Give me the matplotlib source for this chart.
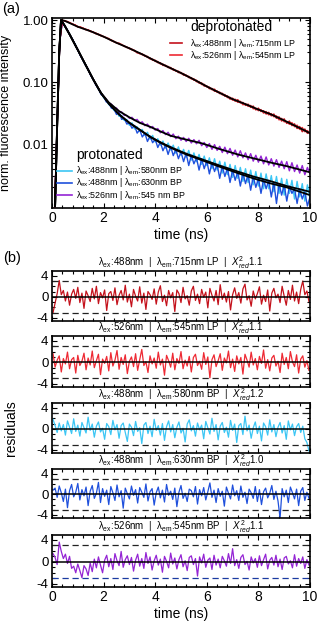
import matplotlib
matplotlib.use('Agg')
import matplotlib.pyplot as plt
import numpy as np
from matplotlib.ticker import FixedLocator, AutoMinorLocator, NullFormatter, LogLocator

plt.rcParams['font.family'] = ['Liberation Sans', 'DejaVu Sans']
plt.rcParams['mathtext.fontset'] = 'custom'
plt.rcParams['mathtext.rm'] = 'Liberation Sans'
plt.rcParams['mathtext.it'] = 'Liberation Sans:italic'
plt.rcParams['axes.unicode_minus'] = False

# ---------------- data: panel (a) ----------------
t_data = np.round(np.arange(101) * 0.1, 2)   # channel times (ns)

dep_715 = [0.0005, 0.0008, 0.021, 0.46, 0.99, 0.96, 0.95, 0.89, 0.87, 0.82,
           0.79, 0.76, 0.75, 0.70, 0.70, 0.65, 0.645, 0.60, 0.595, 0.555,
           0.545, 0.515, 0.505, 0.465, 0.455, 0.425, 0.425, 0.395, 0.385, 0.36,
           0.355, 0.33, 0.325, 0.295, 0.295, 0.275, 0.27, 0.25, 0.245, 0.225,
           0.225, 0.205, 0.205, 0.185, 0.187, 0.171, 0.172, 0.156, 0.155, 0.142,
           0.143, 0.129, 0.13, 0.118, 0.118, 0.107, 0.107, 0.096, 0.097, 0.086,
           0.087, 0.078, 0.079, 0.071, 0.072, 0.065, 0.066, 0.059, 0.060, 0.053,
           0.055, 0.049, 0.052, 0.046, 0.047, 0.042, 0.044, 0.039, 0.041, 0.0355,
           0.038, 0.0335, 0.0345, 0.0305, 0.0325, 0.0285, 0.0305, 0.026, 0.0275, 0.0235,
           0.0255, 0.0215, 0.0235, 0.0198, 0.0212, 0.0178, 0.0192, 0.0158, 0.0175, 0.0149,
           0.0155]
dep_545 = [0.0005, 0.0009, 0.019, 0.44, 0.98, 0.98, 0.93, 0.91, 0.85, 0.84,
           0.77, 0.78, 0.73, 0.72, 0.68, 0.67, 0.63, 0.62, 0.58, 0.57,
           0.535, 0.525, 0.49, 0.48, 0.445, 0.435, 0.41, 0.405, 0.375, 0.37,
           0.345, 0.34, 0.315, 0.305, 0.285, 0.285, 0.26, 0.26, 0.235, 0.235,
           0.215, 0.215, 0.195, 0.195, 0.179, 0.179, 0.164, 0.164, 0.149, 0.15,
           0.137, 0.137, 0.124, 0.124, 0.112, 0.113, 0.101, 0.102, 0.091, 0.092,
           0.083, 0.083, 0.075, 0.077, 0.068, 0.069, 0.062, 0.063, 0.056, 0.057,
           0.051, 0.053, 0.047, 0.049, 0.043, 0.045, 0.0405, 0.042, 0.037, 0.038,
           0.0345, 0.036, 0.0315, 0.0335, 0.0295, 0.031, 0.0275, 0.0285, 0.0245, 0.026,
           0.0228, 0.0232, 0.0208, 0.0222, 0.019, 0.0202, 0.0172, 0.0185, 0.0158, 0.0165,
           0.0148]
pro_580 = [0.0005, 0.0008, 0.02, 0.46, 0.94, 0.81, 0.67, 0.58, 0.47, 0.41,
           0.325, 0.275, 0.222, 0.192, 0.158, 0.133, 0.108, 0.094, 0.076, 0.068,
           0.056, 0.052, 0.043, 0.042, 0.035, 0.034, 0.028, 0.029, 0.024, 0.025,
           0.020, 0.022, 0.0175, 0.019, 0.016, 0.0172, 0.0138, 0.0155, 0.012, 0.0138,
           0.0108, 0.0122, 0.0096, 0.0112, 0.0086, 0.0104, 0.0080, 0.0096, 0.0071, 0.0090,
           0.0066, 0.0082, 0.0061, 0.0079, 0.0055, 0.0072, 0.0052, 0.0068, 0.0047, 0.0064,
           0.0045, 0.0060, 0.0040, 0.0058, 0.0038, 0.0053, 0.0034, 0.0051, 0.0032, 0.0047,
           0.0029, 0.0045, 0.0028, 0.0042, 0.0025, 0.0040, 0.0024, 0.0038, 0.0022, 0.0036,
           0.0021, 0.0034, 0.0019, 0.0033, 0.0019, 0.0031, 0.0017, 0.0030, 0.0016, 0.0028,
           0.0015, 0.0027, 0.0016, 0.0026, 0.0013, 0.0025, 0.0014, 0.0023, 0.0012, 0.0022,
           0.0013]
pro_630 = [0.0005, 0.0008, 0.02, 0.45, 0.93, 0.79, 0.69, 0.56, 0.49, 0.39,
           0.335, 0.265, 0.228, 0.186, 0.162, 0.127, 0.111, 0.089, 0.079, 0.063,
           0.059, 0.048, 0.046, 0.038, 0.037, 0.030, 0.033, 0.025, 0.026, 0.021,
           0.022, 0.018, 0.020, 0.015, 0.017, 0.013, 0.015, 0.011, 0.0135, 0.0105,
           0.012, 0.0088, 0.0108, 0.0078, 0.0096, 0.0068, 0.0092, 0.0065, 0.0082, 0.0058,
           0.0075, 0.0052, 0.0071, 0.0045, 0.0066, 0.0048, 0.0060, 0.0038, 0.0058, 0.0040,
           0.0054, 0.0033, 0.0050, 0.0036, 0.0047, 0.0028, 0.0044, 0.0030, 0.0041, 0.0024,
           0.0038, 0.0026, 0.0036, 0.0021, 0.0034, 0.0023, 0.0032, 0.0018, 0.0030, 0.0020,
           0.0028, 0.0016, 0.0027, 0.0019, 0.0026, 0.0014, 0.0024, 0.0011, 0.0023, 0.0015,
           0.0022, 0.0012, 0.0021, 0.0016, 0.0019, 0.0011, 0.0019, 0.0013, 0.0017, 0.0010,
           0.0014]
pro_545 = [0.0005, 0.0008, 0.021, 0.47, 0.95, 0.80, 0.68, 0.57, 0.48, 0.40,
           0.33, 0.27, 0.225, 0.19, 0.16, 0.13, 0.11, 0.092, 0.078, 0.067,
           0.059, 0.053, 0.046, 0.044, 0.039, 0.038, 0.033, 0.033, 0.029, 0.029,
           0.026, 0.027, 0.024, 0.025, 0.022, 0.0228, 0.0198, 0.021, 0.0182, 0.0192,
           0.0168, 0.0178, 0.0152, 0.0165, 0.0142, 0.0155, 0.0132, 0.0145, 0.0122, 0.0134,
           0.0115, 0.0128, 0.011, 0.0124, 0.0104, 0.0118, 0.0101, 0.0115, 0.0094, 0.0106,
           0.0088, 0.0102, 0.0082, 0.0098, 0.0079, 0.0092, 0.0073, 0.0089, 0.0070, 0.0085,
           0.0066, 0.0080, 0.0062, 0.0078, 0.0060, 0.0072, 0.0056, 0.0070, 0.0053, 0.0066,
           0.0051, 0.0064, 0.0048, 0.0062, 0.0046, 0.0058, 0.0044, 0.0056, 0.0042, 0.0053,
           0.0040, 0.0052, 0.0037, 0.0050, 0.0036, 0.0046, 0.0034, 0.0045, 0.0032, 0.0042,
           0.0033]

# fitted curves
t_fit_dep = [0.12, 0.2, 0.28, 0.35, 0.5, 1.0, 1.5, 2.0, 2.5, 3.0, 3.5, 4.0, 4.5, 5.0,
             5.5, 6.0, 6.5, 7.0, 7.5, 8.0, 8.5, 9.0, 9.5, 10.0]
fit_dep = [0.001, 0.02, 0.3, 1.0, 0.97, 0.78, 0.66, 0.54, 0.43, 0.35, 0.28, 0.22, 0.175,
           0.14, 0.11, 0.085, 0.067, 0.053, 0.044, 0.036, 0.030, 0.024, 0.019, 0.015]
t_fit_pro = [0.12, 0.2, 0.28, 0.35, 0.5, 0.7, 1.0, 1.3, 1.6, 1.9, 2.2, 2.6, 3.0, 3.4,
             3.8, 4.2, 4.6, 5.2, 5.8, 6.5, 7.2, 7.8, 8.5, 9.1, 10.0]
fit_580 = [0.001, 0.02, 0.3, 1.0, 0.80, 0.57, 0.33, 0.19, 0.11, 0.066, 0.045, 0.030,
           0.022, 0.017, 0.0132, 0.0107, 0.0089, 0.0070, 0.0057, 0.0045, 0.0036, 0.0030,
           0.0025, 0.0021, 0.0017]
fit_630 = [0.001, 0.02, 0.3, 1.0, 0.80, 0.57, 0.33, 0.19, 0.11, 0.066, 0.045, 0.030,
           0.022, 0.017, 0.013, 0.0105, 0.0087, 0.0068, 0.0055, 0.0043, 0.0034, 0.0028,
           0.0023, 0.0020, 0.0015]
fit_545 = [0.001, 0.02, 0.3, 1.0, 0.80, 0.57, 0.33, 0.19, 0.11, 0.067, 0.047, 0.034,
           0.027, 0.022, 0.019, 0.016, 0.0136, 0.0118, 0.0103, 0.0083, 0.0068, 0.0059,
           0.0050, 0.0044, 0.0035]

labels_dep = [r'λ$_{\mathrm{ex}}$:488nm | λ$_{\mathrm{em}}$:715nm LP',
              r'λ$_{\mathrm{ex}}$:526nm | λ$_{\mathrm{em}}$:545nm LP']
labels_pro = [r'λ$_{\mathrm{ex}}$:488nm | λ$_{\mathrm{em}}$:580nm BP',
              r'λ$_{\mathrm{ex}}$:488nm | λ$_{\mathrm{em}}$:630nm BP',
              r'λ$_{\mathrm{ex}}$:526nm | λ$_{\mathrm{em}}$:545 nm BP']

# ---------------- data: panel (b) residuals ----------------
t_res = np.round(0.04 + np.arange(125) * 0.08, 2)

res_715 = [-3.0, -1.2, 0.6, 3.1, 0.4, 1.2, -0.8, 0.9, -1.6, 0.5,
           1.4, -0.3, 1.8, -1.1, 0.7, -2.2, 1.1, 0.2, -0.9, 1.6,
           -0.4, 2.0, -1.3, 0.8, -0.2, 1.3, -2.6, 0.6, 1.0, -0.7,
           1.7, -1.5, 0.3, 1.2, -0.6, 2.2, -1.0, 0.5, -1.9, 1.4,
           0.1, -0.8, 1.9, -1.2, 0.7, -2.4, 1.0, 0.4, -0.5, 1.5,
           -1.4, 0.9, 2.1, -0.9, 0.3, -1.7, 1.2, -0.2, 0.8, -2.8,
           1.3, 0.6, -1.1, 1.8, -0.4, 0.2, -1.6, 1.1, 2.0, -0.7,
           0.5, -1.3, 1.4, -0.1, 0.9, -2.1, 1.6, 0.3, -0.8, 1.2,
           -1.5, 2.3, -0.5, 0.7, -1.0, 1.0, -2.5, 0.4, 1.7, -0.3,
           0.8, -1.2, 1.5, 2.4, -0.6, 0.2, -1.8, 1.1, -0.4, 0.6,
           1.9, -1.4, 0.3, -0.9, 1.3, -2.7, 0.7, 1.6, -0.2, 0.5,
           -1.1, 2.0, 0.1, -1.6, 1.2, -0.5, 2.2, -0.8, 0.9, -1.3,
           1.4, 3.0, 0.4, 1.1, -0.9]
res_545lp = [1.6, -0.9, 0.4, 1.2, -1.8, 0.7, -0.3, 1.9, -1.2, 0.5,
             0.9, -2.0, 1.3, -0.6, 0.2, 1.7, -1.4, 0.8, -0.5, 2.1,
             -1.0, 0.3, 1.5, -2.3, 0.6, -0.2, 1.1, -1.6, 1.8, -0.7,
             0.4, 2.2, -1.3, 0.9, -0.4, 1.4, -2.1, 0.2, 1.0, -0.8,
             1.6, -1.5, 0.5, 2.4, -0.6, 0.1, -1.9, 1.2, -0.3, 0.8,
             -1.1, 1.9, -0.5, 0.6, -2.4, 1.3, 0.3, -0.9, 1.7, -1.4,
             0.7, -0.2, 2.0, -1.2, 0.4, -0.7, 1.1, -1.8, 0.9, 1.5,
             -0.6, 0.2, -1.3, 1.8, -0.4, 1.0, -2.9, 0.5, 1.4, -0.8,
             0.3, 1.6, -1.5, 0.8, -0.1, 2.1, -1.0, 0.6, -1.7, 1.2,
             -0.3, 0.9, -2.2, 1.5, 0.4, -0.9, 1.9, -0.5, 0.7, -1.4,
             1.1, -0.2, 2.3, -1.1, 0.5, -1.6, 0.8, 1.3, -0.7, 0.2,
             -1.9, 1.7, -0.4, 0.9, -1.2, 2.0, 0.1, -0.8, 1.4, -2.0,
             0.6, 1.2, -0.9, 0.3, -1.5]
res_580 = [1.8, 0.6, -0.7, 1.1, -0.4, 0.8, -1.2, 1.5, 0.3, -0.9,
           1.9, -0.5, 0.7, -1.4, 1.2, 0.2, -0.8, 2.2, -0.3, 0.9,
           -1.6, 0.5, 1.3, -0.6, 0.1, -2.0, 1.0, 0.4, -1.1, 1.6,
           -0.2, 0.8, -1.8, 0.6, 1.1, -0.7, -2.4, 0.9, 0.3, -1.3,
           1.4, -0.5, 0.2, -2.8, 0.7, 1.2, -0.9, 0.5, -1.5, 1.8,
           -0.3, 0.6, -1.2, 1.0, -2.2, 0.4, 1.5, -0.6, 0.8, -1.7,
           0.3, 1.3, -0.8, 0.1, -2.5, 0.9, 1.7, -0.4, 0.6, -1.4,
           1.1, -0.2, 0.7, -1.9, 1.4, 0.2, -1.0, 2.0, -0.5, 0.8,
           -2.1, 0.5, 1.2, -0.7, 0.3, -1.6, 1.6, -0.3, 0.9, -2.6,
           0.6, 1.0, -1.1, 2.4, -0.4, 0.7, -1.8, 0.2, 1.3, -0.9,
           0.5, -2.3, 1.1, 0.4, -1.2, 1.7, -0.6, 0.8, -1.5, 0.3,
           1.2, -0.8, 0.6, -2.0, 1.5, -0.2, 0.9, -1.3, 0.4, 1.0,
           -0.7, 0.5, -1.9, -2.6, -4.2]
res_630 = [0.8, 1.2, -0.6, 1.6, 0.3, -1.4, 1.0, -2.6, 0.7, 1.9,
           -0.5, 0.4, 2.1, -1.1, 0.9, -0.3, 1.4, -2.2, 0.6, 1.7,
           -0.8, 0.2, 2.3, -1.6, 1.1, -0.4, 0.8, -2.0, 1.5, 0.3,
           -1.2, 1.8, -0.5, 0.7, -2.7, 1.2, 0.1, -0.9, 1.6, -0.2,
           0.9, -1.7, 1.3, 0.4, -0.6, 2.0, -1.3, 0.5, 1.1, -2.1,
           0.3, 1.4, -0.7, 0.8, -1.5, 1.9, -0.2, 0.6, -1.0, 1.2,
           -2.4, 0.4, 1.7, -0.8, 0.2, -1.4, 1.0, 0.7, -0.5, 1.5,
           -1.9, 0.9, -0.3, 1.3, -1.1, 0.5, 2.2, -0.6, 0.8, -1.6,
           1.1, -0.4, 0.6, -2.3, 1.4, 0.2, -0.9, 1.8, -0.3, 0.7,
           -1.2, 1.6, -0.6, 0.4, -1.8, 1.0, 0.3, -0.8, 1.5, -1.4,
           0.9, -2.0, 0.5, 1.2, -0.7, 0.2, 1.7, -1.0, 0.6, -1.3,
           -4.6, 1.1, -0.5, 0.8, -1.6, 1.4, 0.3, -0.9, 1.0, -2.2,
           0.6, 1.3, -1.2, 0.4, -0.8]
res_545bp = [1.5, 0.8, -0.5, 3.6, 1.9, 0.6, 1.4, -0.3, 1.0, -1.2,
             -0.8, -2.0, -0.4, -1.6, -2.9, -0.7, -1.3, -2.5, -0.2, -1.8,
             0.5, -1.1, 0.9, -0.6, -2.0, 0.3, 1.2, -0.9, 0.6, -1.4,
             1.5, 0.2, -0.7, 1.9, -1.0, 0.4, 1.1, -0.5, 0.8, -1.7,
             0.3, 1.4, -0.8, 0.6, -1.2, 1.7, -0.3, 0.9, -1.5, 0.2,
             1.2, -0.6, 0.5, -1.9, 1.0, 0.1, -1.1, 1.6, -0.4, 0.7,
             -1.3, 0.4, 1.3, -0.9, 0.2, -1.6, 0.8, 1.1, -0.5, 0.6,
             -2.6, 0.9, -0.2, 1.4, -1.0, 0.3, 0.7, -1.4, 1.2, -0.6,
             0.5, -1.1, 1.0, 0.2, -0.8, 1.5, -0.3, 2.4, -0.7, 0.4,
             -1.2, 0.8, 1.3, -0.5, 0.1, -1.5, 0.9, -0.2, 0.6, -1.0,
             1.1, -0.7, 0.4, 1.4, -1.3, 0.3, 0.8, -0.6, 1.2, -0.9,
             0.5, -1.4, 0.7, 1.0, -0.4, 0.2, -1.1, 1.3, -0.8, 0.6,
             -0.3, 0.9, -1.2, 0.4, -0.6]

res_titles = [r'λ$_{\mathrm{ex}}$:488nm  |  λ$_{\mathrm{em}}$:715nm LP  |  $X^2_{red}$1.1',
              r'λ$_{\mathrm{ex}}$:526nm  |  λ$_{\mathrm{em}}$:545nm LP  |  $X^2_{red}$1.1',
              r'λ$_{\mathrm{ex}}$:488nm  |  λ$_{\mathrm{em}}$:580nm BP  |  $X^2_{red}$1.2',
              r'λ$_{\mathrm{ex}}$:488nm  |  λ$_{\mathrm{em}}$:630nm BP  |  $X^2_{red}$1.0',
              r'λ$_{\mathrm{ex}}$:526nm  |  λ$_{\mathrm{em}}$:545nm BP  |  $X^2_{red}$1.1']

c_dred, c_red, c_cyan, c_blue, c_purp = '#c4121c', '#ee2a34', '#3cc6f4', '#1f50dc', '#9424d4'

# ---------------- figure ----------------
fig = plt.figure(figsize=(3.18, 6.28), dpi=100)
W, H = 318, 628

def box(l, t, r, b):
    return [l / W, 1 - b / H, (r - l) / W, (b - t) / H]

def style(ax):
    ax.tick_params(which='both', direction='in', top=True, right=True, width=0.8)
    ax.tick_params(which='major', length=3.5, labelsize=9.5, pad=2.5)
    ax.tick_params(which='minor', length=2)
    for s in ax.spines.values():
        s.set_linewidth(1.2)

ax = fig.add_axes(box(52, 18, 310, 208))
ax.plot(t_data, pro_580, color=c_cyan, lw=1.0)
ax.plot(t_data, pro_630, color=c_blue, lw=1.0)
ax.plot(t_data, pro_545, color=c_purp, lw=1.0)
ax.plot(t_data, dep_715, color=c_dred, lw=1.0)
ax.plot(t_data, dep_545, color=c_red, lw=1.0)
ax.plot(t_fit_dep, fit_dep, color='black', lw=1.3)
ax.plot(t_fit_pro, fit_580, color='black', lw=1.3)
ax.plot(t_fit_pro, fit_630, color='black', lw=1.3)
ax.plot(t_fit_pro, fit_545, color='black', lw=1.3)
ax.set_yscale('log')
ax.set_ylim(0.00093, 1.08)
ax.set_xlim(0, 10)
ax.yaxis.set_major_locator(FixedLocator([0.01, 0.1, 1.0]))
ax.set_yticklabels(['0.01', '0.10', '1.00'])
ax.yaxis.set_minor_locator(LogLocator(base=10, subs=np.arange(2, 10)))
ax.yaxis.set_minor_formatter(NullFormatter())
ax.set_xticks([0, 2, 4, 6, 8, 10])
ax.xaxis.set_minor_locator(AutoMinorLocator(5))
style(ax)
ax.tick_params(axis='x', labelsize=10)
ax.set_xlabel('time (ns)', fontsize=10, labelpad=2)
ax.set_ylabel('norm. fluorescence intensity', fontsize=9)
ax.yaxis.set_label_coords(-0.155, 0.5)

# legend entries (hand placed, in axes coordinates)
def legend_rows(colors, labels, x0, x1, xt, ys):
    for c, lab, y in zip(colors, labels, ys):
        ax.plot([x0, x1], [y, y], color=c, lw=1.2, transform=ax.transAxes, clip_on=False)
        ax.text(xt, y, lab, transform=ax.transAxes, fontsize=6.4, va='center', ha='left')

legend_rows([c_dred, c_red], labels_dep, 0.457, 0.504, 0.535, [0.868, 0.805])
legend_rows([c_cyan, c_blue, c_purp], labels_pro, 0.019, 0.078, 0.093, [0.195, 0.132, 0.068])
ax.text(0.535, 0.953, 'deprotonated', transform=ax.transAxes, fontsize=10, va='center', ha='left')
ax.text(0.093, 0.279, 'protonated', transform=ax.transAxes, fontsize=10, va='center', ha='left')

fig.text(2 / W, 1 - 9 / H, '(a)', fontsize=10.5, va='center', ha='left')
fig.text(3 / W, 1 - 258 / H, '(b)', fontsize=10.5, va='center', ha='left')

# residual panels
res_all = [res_715, res_545lp, res_580, res_630, res_545bp]
res_cols = [c_dred, c_red, c_cyan, c_blue, c_purp]
tops = [271, 336, 403, 469, 535]
bots = [321, 387, 453, 518, 587]
for i in range(5):
    a = fig.add_axes(box(52, tops[i], 310, bots[i]))
    a.plot(t_res, res_all[i], color=res_cols[i], lw=0.9)
    a.axhline(0, color='black', lw=1.1)
    a.axhline(3, color='#222222', lw=0.9, ls=(0, (5, 3)))
    a.axhline(-3, color='#1a3aa0' if i == 4 else '#222222', lw=0.9, ls=(0, (5, 3)))
    a.set_xlim(0, 10)
    a.set_ylim(-4.6, 4.9)
    a.set_yticks([-4, 0, 4])
    a.set_yticklabels(['-4', '0', '4'])
    a.set_xticks([0, 2, 4, 6, 8, 10])
    a.xaxis.set_minor_locator(AutoMinorLocator(5))
    a.yaxis.set_minor_locator(AutoMinorLocator(4))
    style(a)
    a.set_title(res_titles[i], fontsize=7, pad=2.5)
    if i < 4:
        a.set_xticklabels([])
    else:
        a.tick_params(axis='x', labelsize=10)
        a.set_xlabel('time (ns)', fontsize=10, labelpad=2)

fig.text(11 / W, 1 - 428 / H, 'residuals', rotation=90, fontsize=10, va='center', ha='center')

fig.savefig('out.png', dpi=100)
